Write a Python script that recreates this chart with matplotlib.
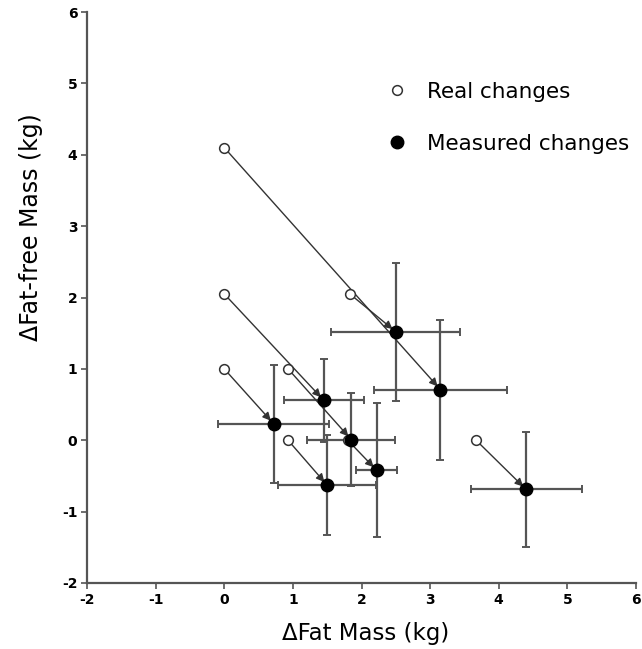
import matplotlib
matplotlib.use("Agg")
import matplotlib.pyplot as plt
from matplotlib.lines import Line2D

# Measured changes (filled) with error bars
meas_x = [2.50, 3.15, 0.72, 1.45, 1.85, 2.22, 1.50, 4.40]
meas_y = [1.52, 0.71, 0.23, 0.56, 0.01, -0.42, -0.63, -0.69]
xerr = [0.94, 0.97, 0.81, 0.58, 0.645, 0.30, 0.71, 0.81]
yerr = [0.97, 0.98, 0.83, 0.58, 0.65, 0.94, 0.70, 0.81]

# Real changes (open), paired with measured points above
real_x = [1.83, 0.0, 0.0, 0.0, 0.93, 1.80, 0.93, 3.67]
real_y = [2.05, 4.10, 1.00, 2.05, 1.00, 0.00, 0.00, 0.00]

xticks = [-2, -1, 0, 1, 2, 3, 4, 5, 6]
yticks = [-2, -1, 0, 1, 2, 3, 4, 5, 6]

fig = plt.figure(figsize=(6.42, 6.49), dpi=100)
ax = fig.add_axes([87/642, 1-583/649, (636-87)/642, (583-12)/649])

axis_col = "#555555"
ax.errorbar(meas_x, meas_y, xerr=xerr, yerr=yerr, fmt="none",
            ecolor="#555555", elinewidth=1.6, capsize=3, capthick=1.4, zorder=2)

for rx, ry, mx, my in zip(real_x, real_y, meas_x, meas_y):
    ax.annotate("", xy=(mx, my), xytext=(rx, ry),
                arrowprops=dict(arrowstyle="-|>", lw=1.0, color="#333333",
                                shrinkA=4, shrinkB=3, mutation_scale=12),
                zorder=3)

ax.plot(real_x, real_y, "o", ms=7, mfc="white", mec="#333333", mew=1.1,
        ls="none", zorder=4)
ax.plot(meas_x, meas_y, "o", ms=9, mfc="black", mec="black",
        ls="none", zorder=5)

ax.set_xlim(-2, 6)
ax.set_ylim(-2, 6)
ax.set_xticks(xticks)
ax.set_yticks(yticks)
ax.set_xticklabels([str(t) for t in xticks], fontweight="bold", fontsize=10)
ax.set_yticklabels([str(t) for t in yticks], fontweight="bold", fontsize=10)
for s in ["top", "right"]:
    ax.spines[s].set_visible(False)
for s in ["left", "bottom"]:
    ax.spines[s].set_color(axis_col)
    ax.spines[s].set_linewidth(1.6)
ax.tick_params(direction="out", length=4, width=1.2, color=axis_col, pad=3)

ax.set_xlabel("ΔFat Mass (kg)", fontsize=16.5)
ax.set_ylabel("ΔFat-free Mass (kg)", fontsize=17)
ax.xaxis.set_label_coords(0.508, -0.068)
ax.yaxis.set_label_coords(-0.080, 0.623)

handles = [
    Line2D([], [], marker="o", ls="none", ms=7, mfc="white", mec="#333333", mew=1.1),
    Line2D([], [], marker="o", ls="none", ms=9, mfc="black", mec="black"),
]
ax.legend(handles, ["Real changes", "Measured changes"], loc="upper left",
          bbox_to_anchor=(0.525, 0.897), frameon=False, fontsize=15.5,
          handlelength=1.0, handletextpad=0.9, labelspacing=1.5, borderpad=0)

fig.savefig("out.png", dpi=100)
